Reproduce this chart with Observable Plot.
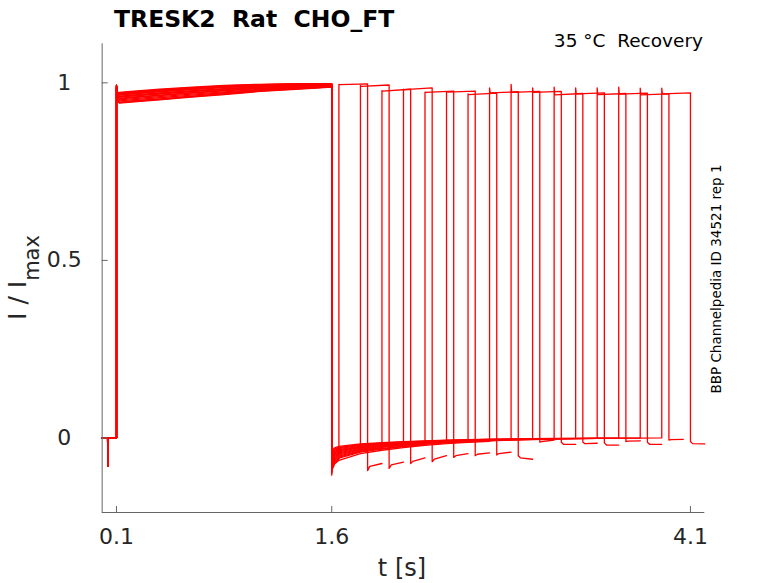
<!DOCTYPE html>
<html>
<head>
<meta charset="utf-8">
<script src="https://cdn.jsdelivr.net/npm/d3@7"></script>
<script src="https://cdn.jsdelivr.net/npm/@observablehq/plot@0.6"></script>
<style>
  html, body { margin: 0; padding: 0; background: #fff; }
  svg text { white-space: pre; }
</style>
</head>
<body>
<div id="chart"></div>
<script>
// ---- read-off values ----
const xDomain = [0, 4.2];
const yDomain = [-0.21, 1.11];
const xTicks = [0.1, 1.6, 4.1];
const yTicks = [0, 0.5, 1];

// holding period before first pulse
const preT = [0, 0.038, 0.04, 0.042, 0.1];
const preV = [0, 0, -0.08, 0, 0];

// first (conditioning) pulse: mean level and sweep-to-sweep spread
const p1T      = [0.1, 0.104, 0.12, 0.2, 0.4, 0.6, 0.85, 1.1, 1.35, 1.6];
const p1Mean   = [0.99, 0.962, 0.958, 0.961, 0.967, 0.973, 0.980, 0.986, 0.990, 0.993];
const p1Spread = [0.004, 0.012, 0.015, 0.015, 0.015, 0.014, 0.013, 0.010, 0.008, 0.005];
const p1Offset = [0.9, -0.6, 0.3, -1.0, 0.6, -0.2, 1.0, -0.8, 0.1, 0.5, -0.4, 0.8, -0.9, 0.2, -0.1, 0.7];

// recovery interval after 1.6 s (shape relative to each sweep's depth)
const recT     = [1.6, 1.603, 1.62, 1.65, 1.8, 1.95, 2.1, 2.25, 2.4, 2.55, 2.7, 2.85, 3.0, 3.15, 3.3, 3.45, 3.6, 3.75, 3.9];
const recShape = [1.0, 0.85, 0.7, 0.6, 0.42, 0.33, 0.26, 0.2, 0.155, 0.12, 0.09, 0.07, 0.05, 0.035, 0.025, 0.015, 0.01, 0.005, 0.0];
const recDepth = [0.10, 0.06, 0.085, 0.045, 0.095, 0.07, 0.05, 0.105, 0.065, 0.04, 0.08, 0.055, 0.09, 0.075, 0.045, 0.06];

// test pulses
const pulseStart = [1.65, 1.8, 1.95, 2.1, 2.25, 2.4, 2.55, 2.7, 2.85, 3.0, 3.15, 3.3, 3.45, 3.6, 3.75, 3.9];
const pulseEnd   = [1.85, 2.0, 2.15, 2.3, 2.45, 2.6, 2.75, 2.9, 3.05, 3.2, 3.35, 3.5, 3.65, 3.8, 3.95, 4.1];
const pulseSpike = [0.996, 0.993, 0.978, 0.982, 0.974, 0.975, 0.969, 0.986, 0.996, 0.986, 0.988, 0.986, 0.986, 0.988, 0.985, 0.985];
const pulseFirst = [0.995, 0.990, 0.977, 0.981, 0.973, 0.974, 0.967, 0.972, 0.973, 0.973, 0.966, 0.969, 0.967, 0.968, 0.966, 0.969];
const pulseLast  = [0.997, 0.994, 0.982, 0.986, 0.977, 0.977, 0.971, 0.975, 0.976, 0.976, 0.970, 0.972, 0.970, 0.971, 0.969, 0.972];

// tail after each test pulse
const tailA = [-0.092, -0.086, -0.072, -0.067, -0.055, -0.050, -0.048, -0.050, -0.012, -0.012, -0.012, -0.014, -0.010, -0.012, -0.006, -0.010];
const tailB = [-0.080, -0.076, -0.066, -0.060, -0.050, -0.046, -0.044, -0.056, -0.010, -0.018, -0.016, -0.020, -0.009, -0.018, -0.005, -0.016];
const tailC = [-0.072, -0.068, -0.056, -0.050, -0.044, -0.042, -0.040, -0.060, -0.006, -0.018, -0.015, -0.020, -0.008, -0.018, -0.004, -0.017];
const tailDur = 0.1;

// ---- build table ----
const rows = [];
pulseStart.forEach((s, k) => {
  preT.forEach((t, i) => rows.push({sweep: k, t, v: preV[i]}));
  p1T.forEach((t, i) => rows.push({sweep: k, t, v: p1Mean[i] + p1Spread[i] * p1Offset[k]}));
  recT.forEach((t, i) => { if (t <= s + 1e-9) rows.push({sweep: k, t, v: -recDepth[k] * recShape[i]}); });
  const e = pulseEnd[k];
  rows.push({sweep: k, t: s, v: pulseSpike[k]});
  rows.push({sweep: k, t: s + 0.004, v: pulseFirst[k]});
  rows.push({sweep: k, t: e, v: pulseLast[k]});
  rows.push({sweep: k, t: e, v: tailA[k]});
  rows.push({sweep: k, t: e + 0.015, v: tailB[k]});
  rows.push({sweep: k, t: e + tailDur, v: tailC[k]});
});

const axisGray = "#666666";
const textCol = "#262626";

const chart = Plot.plot({
  width: 778,
  height: 583,
  marginLeft: 101.65,
  marginRight: 73.7,
  marginTop: 43.3,
  marginBottom: 71,
  style: {fontFamily: "DejaVu Sans", background: "#fff", overflow: "visible"},
  x: {domain: xDomain},
  y: {domain: yDomain},
  marks: [
    Plot.line(rows, {x: "t", y: "v", z: "sweep", stroke: "#ff0000", strokeWidth: 1.3}),
    Plot.ruleY([yDomain[0]], {stroke: axisGray, strokeWidth: 1}),
    Plot.ruleX([xDomain[0]], {stroke: axisGray, strokeWidth: 1}),
    Plot.axisX({ticks: xTicks, tickFormat: d => d.toFixed(1), tickSize: -6, tickPadding: 22,
                stroke: axisGray, fill: textCol, fontSize: 22, label: null}),
    Plot.axisY({ticks: yTicks, tickFormat: d => String(d), tickSize: -6, tickPadding: 44,
                textAnchor: "middle", stroke: axisGray, fill: textCol, fontSize: 22, label: null})
  ]
});

const svg = d3.select(chart);
svg.append("text")
  .attr("x", 114).attr("y", 26.5).attr("text-anchor", "start")
  .attr("font-family", "DejaVu Sans").attr("font-weight", "bold").attr("font-size", 23.5)
  .attr("fill", "#000")
  .text("TRESK2  Rat  CHO_FT");
svg.append("text")
  .attr("x", 703).attr("y", 46.5).attr("text-anchor", "end")
  .attr("font-family", "DejaVu Sans").attr("font-size", 18.5).attr("fill", "#000")
  .text("35 °C  Recovery");
svg.append("text")
  .attr("transform", "translate(721,279) rotate(-90)").attr("text-anchor", "middle")
  .attr("font-family", "DejaVu Sans").attr("font-size", 13.5).attr("fill", "#000")
  .text("BBP Channelpedia ID 34521 rep 1");
svg.append("text")
  .attr("x", 402).attr("y", 576).attr("text-anchor", "middle")
  .attr("font-family", "DejaVu Sans").attr("font-size", 24).attr("fill", textCol)
  .text("t [s]");
const yl = svg.append("text")
  .attr("transform", "translate(26,277.5) rotate(-90)").attr("text-anchor", "middle")
  .attr("font-family", "DejaVu Sans").attr("font-size", 25).attr("fill", textCol);
yl.append("tspan").text("I / I");
yl.append("tspan").attr("dy", 13).attr("font-size", 21).text("max");

document.getElementById("chart").appendChild(chart);
</script>
</body>
</html>
